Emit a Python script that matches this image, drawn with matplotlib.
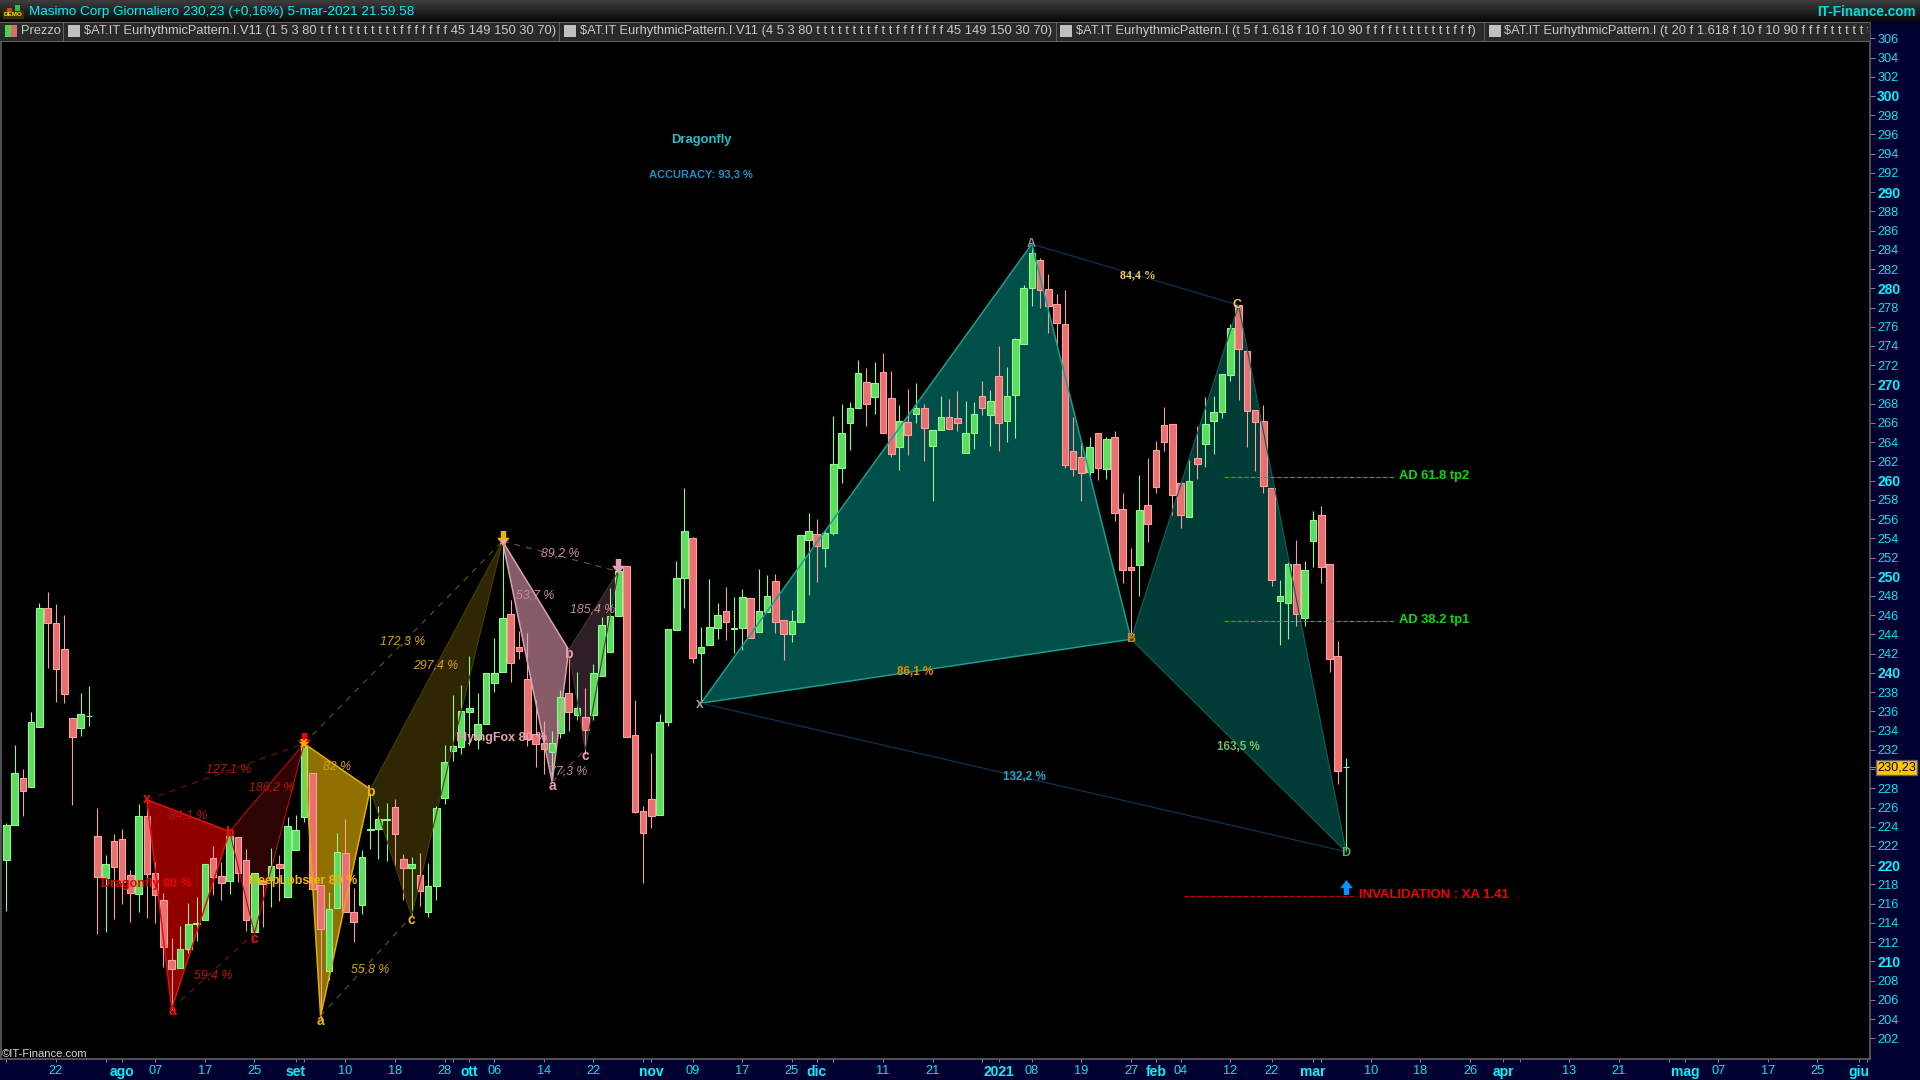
import numpy as np
import matplotlib
matplotlib.use('Agg')
import matplotlib.pyplot as plt
from matplotlib.patches import Rectangle
from matplotlib.transforms import Bbox, TransformedBbox

# Masimo Corp daily candles
opens = [220.5,224.2,229.03,228.17,234.4,246.7,245.15,242.45,235.27,234.3,
    235.5,223.0,218.7,222.5,222.7,218.95,217.05,225.1,219.15,216.35,
    210.1,209.35,211.25,213.85,214.35,220.7,218.85,218.4,222.9,220.5,
    213.1,218.4,218.45,220.1,216.7,221.6,225.0,229.56,217.9,209.0,
    215.5,221.3,215.1,215.9,223.7,223.75,224.7,226.1,220.6,219.7,
    218.95,215.15,217.85,226.95,231.9,232.25,235.95,233.15,234.65,238.9,
    240.05,246.1,242.65,239.35,233.65,232.7,231.8,233.75,237.95,235.65,
    235.45,235.65,239.7,242.2,245.95,251.1,233.5,225.6,226.85,225.25,
    234.9,244.5,249.9,254.0,242.1,242.9,244.7,246.4,244.6,244.7,
    247.75,244.3,246.35,249.6,245.45,244.0,245.3,253.85,254.4,253.0,
    254.5,261.35,265.95,267.5,270.3,268.7,271.25,268.55,263.5,266.05,
    266.9,267.6,263.65,265.25,266.6,266.5,262.9,265.0,268.75,266.85,
    270.85,266.25,268.95,274.25,280.05,282.9,279.9,278.35,276.25,263.05,
    262.5,260.9,264.9,261.25,264.5,257.0,251.0,251.25,257.5,263.15,
    265.75,265.85,259.7,256.25,262.4,263.85,266.25,267.15,271.0,278.25,
    273.45,267.3,266.25,259.2,247.5,247.3,251.3,245.75,253.75,256.4,
    251.3,241.75,230.2]
closes = [224.15,229.56,227.75,234.86,246.7,245.2,240.4,237.85,233.37,235.7,
    235.5,218.8,220.1,219.85,218.3,217.15,225.1,219.1,216.9,211.5,
    209.25,211.25,213.85,214.0,220.1,218.8,218.2,223.0,219.15,214.25,
    219.15,218.0,219.9,219.75,224.05,223.65,232.3,217.5,213.4,215.4,
    221.4,215.1,214.05,220.9,223.75,224.8,224.85,223.2,219.75,220.15,
    217.35,217.8,225.9,230.7,232.35,236.0,236.4,234.65,239.95,239.95,
    245.7,241.0,242.3,233.15,232.65,232.1,232.75,237.45,235.95,236.3,
    234.1,239.95,244.95,245.9,250.55,233.3,225.55,223.4,225.15,234.85,
    244.55,249.9,254.8,241.6,242.65,244.75,246.0,245.25,244.7,247.85,
    243.65,246.4,247.95,245.3,244.0,245.35,254.3,254.8,253.15,254.5,
    261.7,265.0,267.6,271.15,268.0,270.2,264.9,262.8,266.15,264.7,
    267.6,265.45,265.25,266.6,265.4,265.95,265.0,266.9,267.6,268.25,
    266.0,268.75,274.7,280.0,283.65,279.85,278.2,276.4,261.65,261.25,
    260.8,263.45,261.35,264.3,256.65,250.75,250.75,256.9,255.5,259.35,
    264.05,258.55,256.45,260.0,261.75,265.85,267.1,271.05,275.85,273.7,
    267.25,266.1,259.45,249.7,247.95,251.3,246.15,250.75,255.87,251.05,
    241.4,229.75,230.23]
highs = [224.4,232.5,229.97,235.9,247.3,248.4,247.2,246.0,235.27,237.9,
    238.6,225.9,221.1,223.2,223.8,219.5,226.4,226.0,220.3,217.1,
    212.4,213.7,216.1,216.65,220.1,222.0,220.3,223.3,222.9,221.65,
    219.15,218.5,221.75,221.1,225.0,225.2,232.7,229.56,217.9,217.25,
    223.3,224.8,217.6,221.6,227.5,226.15,226.5,226.85,221.2,220.85,
    221.3,220.2,226.2,232.5,237.7,238.75,241.75,237.9,239.95,243.65,
    253.5,247.6,244.35,244.1,237.2,234.95,234.0,238.2,242.0,240.05,
    238.4,240.9,245.8,248.8,251.1,251.1,237.2,226.15,231.7,235.7,
    244.55,251.6,259.2,254.1,244.75,249.75,247.25,248.9,247.9,248.7,
    247.75,250.8,250.2,250.3,245.45,246.55,254.3,256.6,256.0,254.9,
    266.7,267.95,268.2,272.5,271.75,272.3,273.25,271.45,267.9,269.5,
    270.2,267.95,265.25,268.85,268.45,269.3,268.25,268.15,270.4,269.4,
    274.0,271.8,274.85,280.35,284.3,283.1,281.45,279.4,279.8,266.6,
    264.2,264.5,264.9,264.5,265.15,258.7,253.0,260.55,262.3,264.1,
    267.7,265.85,259.7,262.15,265.7,268.65,268.85,271.05,276.3,278.25,
    273.45,267.3,267.85,259.2,249.65,251.5,253.8,251.6,256.85,257.35,
    251.3,243.3,231.1]
lows = [215.2,224.2,225.1,228.17,234.4,240.5,237.0,236.9,226.3,233.4,
    234.5,212.8,213.1,214.4,216.0,214.1,215.1,214.55,214.0,209.45,
    204.95,209.35,210.85,212.15,214.35,216.9,216.4,217.0,218.3,213.2,
    212.9,213.6,215.7,216.3,216.7,221.6,224.5,217.5,203.9,208.05,
    215.5,215.1,212.05,214.9,221.7,220.6,220.45,219.9,216.4,214.7,
    215.8,214.6,216.4,226.4,230.85,231.6,232.55,232.1,234.65,238.05,
    240.05,239.05,241.45,232.35,230.2,229.5,228.65,233.25,234.0,235.1,
    231.6,235.15,239.7,242.2,245.95,233.3,225.45,218.2,223.9,225.25,
    234.5,244.5,246.8,241.05,236.85,242.9,243.55,243.4,242.1,242.4,
    243.65,244.3,246.35,244.2,241.35,243.25,245.3,248.1,249.5,251.05,
    254.3,259.8,263.2,267.5,265.7,266.95,264.9,262.5,261.1,262.65,
    266.0,262.05,257.9,265.25,265.4,265.2,262.9,263.3,266.85,263.6,
    263.1,264.0,264.45,274.25,278.15,277.9,275.3,274.05,261.3,260.5,
    257.9,260.4,260.05,260.15,255.85,249.3,243.5,247.95,253.65,258.75,
    263.1,256.4,255.1,256.25,260.2,261.45,262.8,266.55,270.4,268.4,
    263.5,260.95,258.75,249.0,242.95,243.55,244.9,244.9,251.05,249.4,
    240.05,228.4,221.4]

# harmonic patterns, points x a b c d as bar number and price
dragonfly_bars = [17, 20, 27, 30, 36]
dragonfly_prices = [226.8, 205.1, 223.5, 212.9, 232.65]
lobster_bars = [36, 38, 44, 49, 60]
lobster_prices = [232.65, 204.3, 227.9, 214.7, 253.7]
fox_bars = [60, 66, 68, 70, 74]
fox_prices = [253.7, 228.65, 242.4, 232.0, 250.55]
main_bars = [84, 124, 136, 149, 162]
main_prices = [236.85, 284.6, 243.5, 278.25, 221.4]

# levels
tp2_level = 260.35
tp1_level = 245.35
invalidation_level = 216.75
last_price = 230.23

# axis labels (230 sits under the price tag, so it gets no label)
price_ticks = list(range(202, 308, 2))
date_bars = [6,14,18,24,30,35,41,47,53,56,59,65,71,78,83,89,95,98,106,112,
    120,124,130,136,139,142,148,153,158,165,171,177,181,189,195,203,207,213,219,224]
date_labels = ['22','ago','07','17','25','set','10','18','28','ott','06','14','22','nov','09','17','25','dic','11','21',
    '2021','08','19','27','feb','04','12','22','mar','10','18','26','apr','13','21','mag','07','17','25','giu']
bold_dates = ['ago','set','ott','nov','dic','2021','feb','mar','apr','mag','giu']
extra_date_bars = [0, 12, 36, 54, 77, 100, 118, 159, 183, 201, 225]

W, H = 1920, 1080
BAR0, BAR_STEP = 6.33, 8.27
Y280, Y_STEP = 288.3, 9.615
ARIAL = ['Liberation Sans', 'DejaVu Sans']
CYAN = '#00e6f0'
PX = 0.72  # one pixel in points at dpi 100


def bar_of(px):
    return (px - BAR0) / BAR_STEP


def price_of(py):
    return 280 - (py - Y280) / Y_STEP


def put(x, y, s, **kw):
    kw.setdefault('va', 'center')
    kw.setdefault('family', ARIAL)
    kw.setdefault('zorder', 6)
    return fig.text(x / W, 1 - y / H, s, **kw)


def box(x0, y0, x1, y1, color, zorder=5, **kw):
    r = Rectangle((x0 / W, 1 - y1 / H), (x1 - x0) / W, (y1 - y0) / H, transform=fig.transFigure,
                  facecolor=color, edgecolor=kw.pop('edgecolor', 'none'), zorder=zorder, **kw)
    fig.add_artist(r)
    return r


fig = plt.figure(figsize=(19.2, 10.8), dpi=100, facecolor='#000030')
ax = fig.add_axes([1 / W, 1 - 1059 / H, 1869 / W, (1059 - 22) / H], facecolor='black')
ax.set_xlim(bar_of(1), bar_of(1870))
ax.set_ylim(price_of(1059), price_of(22))


def draw_pattern(bars, prices, fill1, fill2, edge1, edge2, dash):
    x, a, b, c, d = list(zip(bars, prices))
    ax.fill(*zip(x, a, b), color=fill1, lw=0, zorder=1)
    ax.fill(*zip(b, c, d), color=fill2, lw=0, zorder=1)
    ax.plot(*zip(x, a, b, x), color=edge1, lw=1.1 * PX * 1.4, zorder=3)
    ax.plot(*zip(b, c, d, b), color=edge2, lw=1.1 * PX, zorder=3)
    ax.plot(*zip(x, d), color=dash, lw=PX * 1.2, ls=(0, (5, 5)), zorder=3)
    ax.plot(*zip(a, c), color=dash, lw=PX * 1.2, ls=(0, (5, 5)), zorder=3)


draw_pattern(dragonfly_bars, dragonfly_prices, '#900000', '#2e0303', '#e01010', '#c00808', '#701010')
draw_pattern(lobster_bars, lobster_prices, '#8f7000', '#2f2604', '#e0b000', '#4a3c00', '#5f4e10')
draw_pattern(fox_bars, fox_prices, '#875a68', '#2e1e25', '#d8a0b0', '#46323a', '#6a4a55')

# big teal pattern
mx, ma, mb, mc, md = list(zip(main_bars, main_prices))
ax.fill(*zip(mx, ma, mb), color='#004f48', lw=0, zorder=1)
ax.fill(*zip(mb, mc, md), color='#003b36', lw=0, zorder=1)
ax.plot(*zip(mx, ma, mb, mx), color='#14a090', lw=1.5 * PX, zorder=3)
ax.plot(*zip(mb, mc, md, mb), color='#0a6058', lw=1.2 * PX, zorder=3)
ax.plot(*zip(mx, md), color='#0f3050', lw=1.3 * PX, zorder=3)
ax.plot(*zip(ma, mc), color='#0f3050', lw=1.3 * PX, zorder=3)

# candles
bars = np.arange(len(opens))
op, cl, hi, lo = map(np.array, (opens, closes, highs, lows))
up = cl >= op
ax.vlines(bars[up], lo[up], hi[up], color='#90f890', lw=PX * 1.1, zorder=2)
ax.vlines(bars[~up], lo[~up], hi[~up], color='#f8a0a0', lw=PX * 1.1, zorder=2)
ax.bar(bars[up], (cl - op)[up], bottom=op[up], width=0.8, color='#5fdc5f', edgecolor='#90f890',
       lw=PX * 1.1, zorder=2)
ax.bar(bars[~up], (cl - op)[~up], bottom=op[~up], width=0.8, color='#e87070', edgecolor='#ffa0a0',
       lw=PX * 1.1, zorder=2)

# level lines
ax.hlines([tp2_level, tp1_level], bar_of(1224), bar_of(1395), color='#00d000', lw=PX * 1.1, ls=(0, (4, 2)), zorder=3)
ax.hlines(invalidation_level, bar_of(1184), bar_of(1355), color='#e00000', lw=PX * 1.1, ls=(0, (4, 2)), zorder=3)

# arrows
down_arrow = [(-0.36, 1), (0.36, 1), (0.36, 0.1), (0.85, 0.1), (0, -1), (-0.85, 0.1), (-0.36, 0.1)]
up_arrow = [(x, -y) for x, y in down_arrow]
ax.plot([36], [233.0], marker=down_arrow, ms=15 * PX, color='#f00000', mew=0, zorder=4)
ax.plot([60], [254.0], marker=down_arrow, ms=15 * PX, color='#f0b400', mew=0, zorder=4)
ax.plot([74], [251.1], marker=down_arrow, ms=15 * PX, color='#eaa0b4', mew=0, zorder=4)
ax.plot([162], [217.7], marker=up_arrow, ms=15 * PX, color='#0a90ff', mew=0, zorder=4)
ax.plot([36], [232.6], marker='*', ms=11 * PX, color='#f0a000', mew=0, zorder=4)
ax.plot([60], [253.7], marker='*', ms=11 * PX, color='#e8a0a8', mew=0, zorder=4)

# axes styling
ax.spines['top'].set_visible(False)
for name in ('left', 'right', 'bottom'):
    ax.spines[name].set_color('#6a6a6a')
    ax.spines[name].set_linewidth(1.5 * PX)
ax.yaxis.tick_right()
ax.set_yticks(price_ticks, ['' if v == 230 else str(v) for v in price_ticks])
ax.tick_params(axis='y', length=5 * PX, width=PX, color='#808080', pad=1.5, labelcolor=CYAN, labelsize=9.2)
for t, v in zip(ax.get_yticklabels(), price_ticks):
    t.set_family(ARIAL)
    if v % 10 == 0:
        t.set_fontweight('bold')
        t.set_fontsize(10)
        t.set_color('#00f4ff')
ax.set_xticks(date_bars, date_labels)
ax.set_xticks(extra_date_bars, minor=True)
ax.tick_params(axis='x', which='both', length=3 * PX, width=PX, color='#808080', pad=2.5, labelcolor=CYAN, labelsize=9.2)
for t, s in zip(ax.get_xticklabels(), date_labels):
    t.set_family(ARIAL)
    if s in bold_dates:
        t.set_fontweight('bold')
        t.set_color('#00f4ff')
        t.set_fontsize(10)

# top gradient bar
top = fig.add_axes([0, 1 - 22 / H, 1, 22 / H], zorder=8)
top.imshow(np.linspace(0.24, 0.03, 22).reshape(-1, 1), cmap='gray', vmin=0, vmax=1, aspect='auto')
top.axis('off')
put(29, 12.5, 'Masimo Corp Giornaliero 230,23 (+0,16%) 5-mar-2021 21.59.58', color='#00f0ff', fontsize=9.7, zorder=9)
put(1916, 12.5, 'IT-Finance.com', color='#00e0e0', fontsize=9.8, fontweight='bold', ha='right', zorder=9)
box(3, 10, 24, 19, '#3a3000', zorder=9)
box(7, 8, 12, 12, '#d04040', zorder=9)
box(15, 5, 20, 11, '#30c040', zorder=9)
put(13.5, 15, 'DEMO', color='#ffe000', fontsize=4.6, fontweight='bold', ha='center', zorder=10)

# indicator strip
box(0, 22, 1870, 41, '#2a2a2a', zorder=5)
box(0, 40.5, 1870, 41.5, '#606060', zorder=5)
box(0, 21.5, 1870, 22.5, '#606060', zorder=5)
for sx in (63, 559, 1055.5, 1484):
    box(sx, 22, sx + 1, 41, '#606060', zorder=5)
box(5, 25, 11, 37, '#50d050', zorder=6)
box(11, 25, 17, 37, '#e06a6a', zorder=6)
put(20.5, 31, 'Prezzo', color='#c8c8c8', fontsize=9.3)
strip_labels = [
    '$AT.IT EurhythmicPattern.I.V11 (1 5 3 80 t f t t t t t t t t t f f f f f f f 45 149 150 30 70)',
    '$AT.IT EurhythmicPattern.I.V11 (4 5 3 80 t t t t t t t t f t t f f f f f f f 45 149 150 30 70)',
    '$AT.IT EurhythmicPattern.I (t 5 f 1.618 f 10 f 10 90 f f f f t t t t t t t t f f f)',
    '$AT.IT EurhythmicPattern.I (t 20 f 1.618 f 10 f 10 90 f f f f t t t t t t t t f f f)',
]
for sq, tx, s in zip((68, 564, 1060, 1489), (84, 580, 1075.5, 1504.5), strip_labels):
    box(sq, 25, sq + 12, 37, '#c0c0c0', zorder=6)
    t = put(tx, 31, s, color='#c8c8c8', fontsize=9.3)
    t.set_clip_on(True)
    t.set_clip_box(TransformedBbox(Bbox([[0, 0], [1868 / W, 1]]), fig.transFigure))

put(2, 1054, '©IT-Finance.com', color='#d8d8d8', fontsize=8.1)

# price tag
box(1876, 760, 1917, 775, '#ffc800', zorder=6, edgecolor='#606060', linewidth=PX * 1.4)
put(1896.5, 767.5, '230,23', color='black', fontsize=9.2, ha='center', zorder=7)
box(1870, 767, 1876, 768, '#00c8e0', zorder=6)

# pattern names
put(701.5, 140, 'Dragonfly', color='#20c0d0', fontsize=9.4, fontweight='bold', ha='center')
put(701, 174.5, 'ACCURACY: 93,3 %', color='#1a90c8', fontsize=8.0, fontweight='bold', ha='center')
put(101, 884, 'Dragonfly 80 %', color='#e80000', fontsize=9, fontweight='bold')
put(249, 881, 'DeepLobster 80 %', color='#f0b400', fontsize=9, fontweight='bold')
put(456, 737.5, 'FlyingFox 80 %', color='#e8a0b0', fontsize=9, fontweight='bold')

# percentages on the patterns
ratio_labels = [
    (229, 770, '127,1 %', '#c01010'), (188, 816, '84,1 %', '#c01010'), (272, 787, '186,2 %', '#c01010'),
    (213, 975, '59,4 %', '#c01010'), (403, 641, '172,3 %', '#d9a400'), (436, 665, '297,4 %', '#d9a400'),
    (337, 767, '82 %', '#d9a400'), (370, 970, '55,8 %', '#d9a400'), (560, 553, '89,2 %', '#c88c9c'),
    (535, 596, '53,7 %', '#c88c9c'), (593, 609, '185,4 %', '#c88c9c'), (568, 771, '77,3 %', '#c88c9c'),
]
for x, y, s, c in ratio_labels:
    put(x, y, s, color=c, fontsize=8.8, fontstyle='italic', ha='center')

point_labels = [
    (147, 799, 'x', '#f01010'), (172, 1011, 'a', '#f01010'), (229, 833, 'b', '#f01010'), (254, 939, 'c', '#f01010'),
    (320, 1021, 'a', '#f0b400'), (370, 792, 'b', '#f0b400'), (411, 920, 'c', '#f0b400'), (304, 743, 'x', '#f0b400'),
    (552, 786, 'a', '#e8a0b0'), (568, 654, 'b', '#e8a0b0'), (585, 756, 'c', '#e8a0b0'),
    (700, 704, 'x', '#a0a0a0'),
]
for x, y, s, c in point_labels:
    put(x, y, s, color=c, fontsize=10, fontweight='bold', ha='center')
put(1031.5, 244, 'A', color='#909090', fontsize=9, fontweight='bold', ha='center')
put(1131, 639, 'B', color='#f08000', fontsize=9, fontweight='bold', ha='center')
put(1237, 305, 'C', color='#f0c860', fontsize=9, fontweight='bold', ha='center')
put(1345.5, 853, 'D', color='#60b060', fontsize=9, fontweight='bold', ha='center')

put(1138, 275, '84,4 %', color='#f5d060', fontsize=8.6, fontweight='bold', ha='center', family=['Liberation Serif', 'DejaVu Serif'])
put(915, 672, '86,1 %', color='#e88a00', fontsize=8.4, fontweight='bold', ha='center')
put(1238, 746.5, '163,5 %', color='#70c060', fontsize=8.4, fontweight='bold', ha='center')
put(1024, 777.5, '132,2 %', color='#20a8c8', fontsize=8.4, fontweight='bold', ha='center')

put(1399, 476, 'AD 61.8 tp2', color='#00e000', fontsize=9.3, fontweight='bold')
put(1399, 620, 'AD 38.2 tp1', color='#00e000', fontsize=9.3, fontweight='bold')
put(1359, 895, 'INVALIDATION : XA 1.41', color='#f00000', fontsize=9.45, fontweight='bold')

fig.savefig('out.png', dpi=100, facecolor=fig.get_facecolor())
